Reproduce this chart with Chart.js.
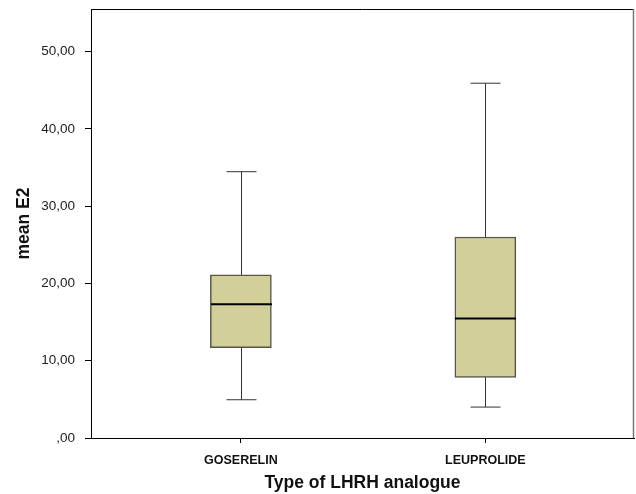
<!DOCTYPE html>
<html>
<head>
<meta charset="utf-8">
<script src="https://cdn.jsdelivr.net/npm/chart.js@4"></script>
<style>
  html, body { margin: 0; padding: 0; background: #fff; }
  #wrap { width: 636px; height: 494px; }
</style>
</head>
<body>
<div id="wrap"><canvas id="chart" width="636" height="494"></canvas></div>
<script>
// box plot data
const categories = ['GOSERELIN', 'LEUPROLIDE'];
const positions = [1, 2];
const mins = [4.95, 4.0];
const q1s = [11.7, 7.85];
const medians = [17.3, 15.45];
const q3s = [21.1, 26.0];
const maxs = [34.45, 45.9];
const yTicks = [0, 10, 20, 30, 40, 50];

const FONT = "'Liberation Sans', Arial, sans-serif";

function fmt(v) {
  if (v === 0) return ',00';
  return v.toFixed(2).replace('.', ',');
}

// whiskers, caps and median lines
const boxExtras = {
  id: 'boxExtras',
  afterDatasetsDraw(chart) {
    const ctx = chart.ctx;
    const xs = chart.scales.x, ys = chart.scales.y;
    ctx.save();
    positions.forEach((p, i) => {
      const x = Math.round(xs.getPixelForValue(p)) + 0.5;
      const yMin = ys.getPixelForValue(mins[i]);
      const yQ1 = ys.getPixelForValue(q1s[i]);
      const yMed = ys.getPixelForValue(medians[i]);
      const yQ3 = ys.getPixelForValue(q3s[i]);
      const yMax = ys.getPixelForValue(maxs[i]);
      ctx.strokeStyle = '#333';
      ctx.lineWidth = 1;
      ctx.beginPath();
      ctx.moveTo(x, yMax); ctx.lineTo(x, yQ3);
      ctx.moveTo(x, yQ1); ctx.lineTo(x, yMin);
      ctx.moveTo(x - 15, yMax); ctx.lineTo(x + 15, yMax);
      ctx.moveTo(x - 15, yMin); ctx.lineTo(x + 15, yMin);
      ctx.stroke();
      ctx.strokeStyle = '#000';
      ctx.lineWidth = 2;
      ctx.beginPath();
      ctx.moveTo(x - 30.5, yMed); ctx.lineTo(x + 30.5, yMed);
      ctx.stroke();
    });
    // frame: top and right edges
    const a = chart.chartArea;
    ctx.lineWidth = 1;
    ctx.strokeStyle = '#000';
    ctx.beginPath();
    ctx.moveTo(a.left, a.top + 0.5); ctx.lineTo(a.right, a.top + 0.5);
    ctx.stroke();
    ctx.strokeStyle = '#777';
    ctx.lineWidth = 1.5;
    ctx.beginPath();
    ctx.moveTo(a.right - 0.5, a.top); ctx.lineTo(a.right - 0.5, a.bottom);
    ctx.stroke();
    ctx.restore();
  }
};

new Chart(document.getElementById('chart'), {
  type: 'bar',
  data: {
    datasets: [{
      data: positions.map((p, i) => ({ x: p, y: [q1s[i], q3s[i]] })),
      backgroundColor: '#d3cf98',
      borderColor: '#55554a',
      borderWidth: 1.5,
      borderSkipped: false,
      barThickness: 61
    }]
  },
  options: {
    responsive: false,
    animation: false,
    layout: { padding: { left: 0, top: 9, right: 2, bottom: 0 } },
    plugins: { legend: { display: false }, tooltip: { enabled: false } },
    scales: {
      x: {
        type: 'linear',
        offset: false,
        min: 0.387,
        max: 2.608,
        afterBuildTicks: (s) => { s.ticks = positions.map(v => ({ value: v })); },
        afterFit: (s) => { s.height = 56; s.paddingLeft = 0; s.paddingRight = 0; },
        grid: { offset: false, drawOnChartArea: false, drawTicks: true, tickLength: 5, color: '#000' },
        border: { display: true, color: '#000', width: 1 },
        ticks: {
          padding: 10,
          color: '#111',
          font: { family: FONT, size: 12.5, weight: 'bold' },
          maxRotation: 0,
          callback: (v) => categories[positions.indexOf(v)]
        },
        title: {
          display: true,
          text: 'Type of LHRH analogue',
          color: '#111',
          font: { family: FONT, size: 17.5, weight: 'bold' },
          padding: { top: 0, bottom: 0 }
        }
      },
      y: {
        min: 0,
        max: 55.5,
        afterBuildTicks: (s) => { s.ticks = yTicks.map(v => ({ value: v })); },
        afterFit: (s) => { s.width = 91; s.paddingTop = 0; s.paddingBottom = 0; },
        grid: { drawOnChartArea: false, drawTicks: true, tickLength: 6, color: '#000' },
        border: { display: true, color: '#000', width: 1 },
        ticks: {
          padding: 10,
          color: '#222',
          font: { family: FONT, size: 13.5 },
          callback: (v) => fmt(v)
        },
        title: {
          display: true,
          text: 'mean E2',
          color: '#111',
          font: { family: FONT, size: 17.5, weight: 'bold' },
          padding: { top: 14, bottom: 0 }
        }
      }
    }
  },
  plugins: [boxExtras]
});
</script>
</body>
</html>
